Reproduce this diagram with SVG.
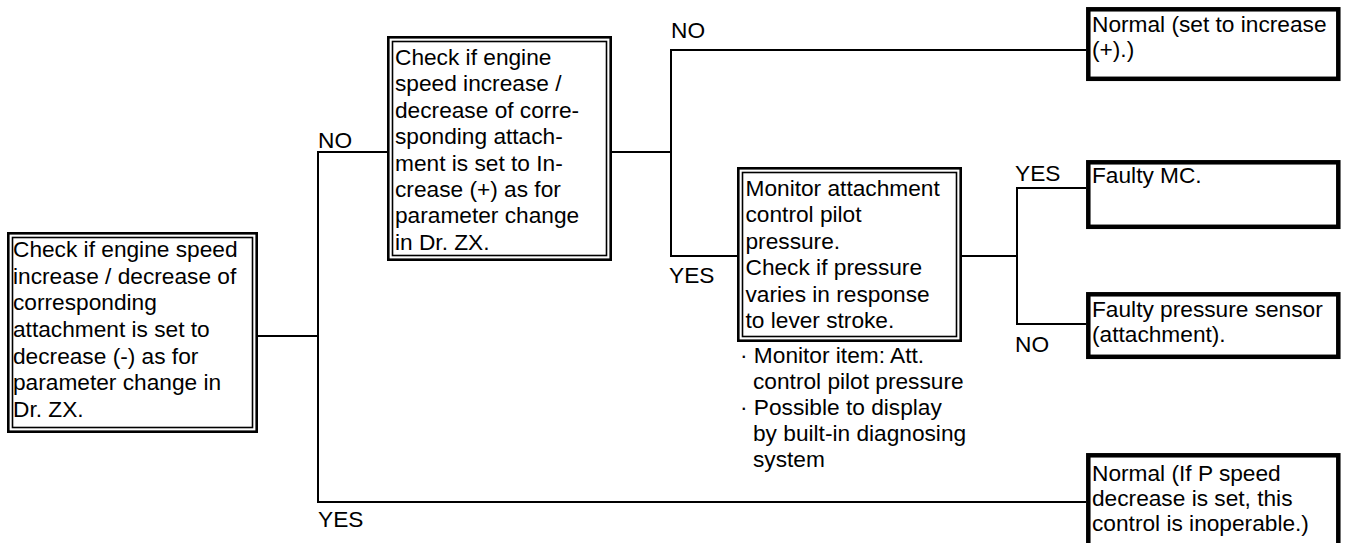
<svg xmlns="http://www.w3.org/2000/svg" width="1346" height="543" viewBox="0 0 1346 543">
<style>
text{font-family:"Liberation Sans",Arial,sans-serif;font-size:22.7px;fill:#000}
.dbl-o{fill:#fff;stroke:#000;stroke-width:2.6}
.dbl-i{fill:none;stroke:#000;stroke-width:1.6}
.thick{fill:#fff;stroke:#000;stroke-width:4.5}
.conn{fill:none;stroke:#000;stroke-width:2}
</style>
<rect width="1346" height="543" fill="#fff"/>
<g id="connectors">
<polyline class="conn" points="258,336 318,336"/>
<polyline class="conn" points="387,152 318,152 318,502 1086,502"/>
<polyline class="conn" points="612,152 671,152"/>
<polyline class="conn" points="1086,50 671,50 671,256 737,256"/>
<polyline class="conn" points="962,256 1017,256"/>
<polyline class="conn" points="1086,188 1017,188 1017,324 1086,324"/>
<text x="318" y="148">NO</text>
<text x="318" y="527">YES</text>
<text x="671" y="38">NO</text>
<text x="669" y="283">YES</text>
<text x="1015" y="181">YES</text>
<text x="1015" y="352">NO</text>
</g>
<g id="node-check-decrease">
<rect class="dbl-o" x="8.3" y="233.3" width="248.4" height="198.4"/>
<rect class="dbl-i" x="12.5" y="237.5" width="240" height="190"/>
<text x="13"><tspan x="13" y="257">Check if engine speed</tspan><tspan x="13" y="283.7">increase / decrease of</tspan><tspan x="13" y="310.3">corresponding</tspan><tspan x="13" y="337">attachment is set to</tspan><tspan x="13" y="363.7">decrease (-) as for</tspan><tspan x="13" y="390.3">parameter change in</tspan><tspan x="13" y="417">Dr. ZX.</tspan></text>
</g>
<g id="node-check-increase">
<rect class="dbl-o" x="388.3" y="37.3" width="222.4" height="222.4"/>
<rect class="dbl-i" x="392.5" y="41.5" width="214" height="214"/>
<text><tspan x="395" y="65">Check if engine</tspan><tspan x="395" y="91.4">speed increase /</tspan><tspan x="395" y="117.8">decrease of corre-</tspan><tspan x="395" y="144.2">sponding attach-</tspan><tspan x="395" y="170.6">ment is set to In-</tspan><tspan x="395" y="197">crease (+) as for</tspan><tspan x="395" y="223.4">parameter change</tspan><tspan x="395" y="249.8">in Dr. ZX.</tspan></text>
</g>
<g id="node-monitor">
<rect class="dbl-o" x="738.3" y="168.3" width="222.4" height="172.4"/>
<rect class="dbl-i" x="742.5" y="172.5" width="214" height="164"/>
<text><tspan x="745.5" y="195.5">Monitor attachment</tspan><tspan x="745.5" y="222">control pilot</tspan><tspan x="745.5" y="248.5">pressure.</tspan><tspan x="745.5" y="275">Check if pressure</tspan><tspan x="745.5" y="301.5">varies in response</tspan><tspan x="745.5" y="328">to lever stroke.</tspan></text>
<text><tspan x="740" y="363">· Monitor item: Att.</tspan><tspan x="753" y="389">control pilot pressure</tspan><tspan x="740" y="415">· Possible to display</tspan><tspan x="753" y="441">by built-in diagnosing</tspan><tspan x="753" y="467">system</tspan></text>
</g>
<g id="node-normal-increase">
<rect class="thick" x="1088.3" y="9.3" width="250" height="69.5"/>
<text><tspan x="1092" y="32">Normal (set to increase</tspan><tspan x="1092" y="57">(+).)</tspan></text>
</g>
<g id="node-faulty-mc">
<rect class="thick" x="1088.3" y="162.3" width="250" height="64.5"/>
<text x="1092" y="183">Faulty MC.</text>
</g>
<g id="node-faulty-sensor">
<rect class="thick" x="1088.3" y="294.3" width="250" height="62.5"/>
<text><tspan x="1092" y="317">Faulty pressure sensor</tspan><tspan x="1092" y="342">(attachment).</tspan></text>
</g>
<g id="node-normal-p">
<rect class="thick" x="1088.3" y="455.3" width="250" height="100"/>
<text><tspan x="1092" y="481">Normal (If P speed</tspan><tspan x="1092" y="506">decrease is set, this</tspan><tspan x="1092" y="531">control is inoperable.)</tspan></text>
</g>
</svg>
